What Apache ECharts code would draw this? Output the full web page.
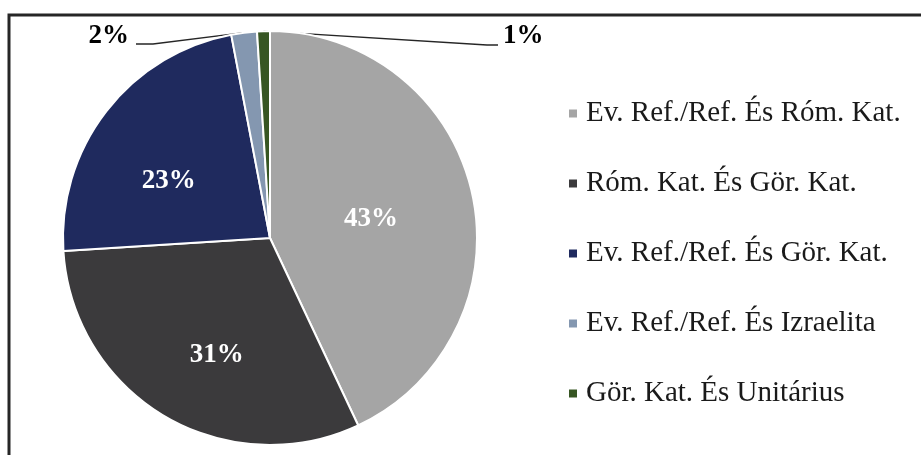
<!DOCTYPE html>
<html lang="hu">
<head>
  <meta charset="utf-8">
  <style>
    html, body { margin: 0; padding: 0; background: #fff; }
    #container { width: 921px; height: 455px; }
  </style>
  <title>Vegyes házasságok felekezeti megoszlása</title>
</head>
<body>
  <div id="container"></div>

  <script type="text/javascript" src="https://fastly.jsdelivr.net/npm/echarts@6/dist/echarts.min.js"></script>
  <script type="text/javascript">
    var categories = [
      'Ev. Ref./Ref. És Róm. Kat.',
      'Róm. Kat. És Gör. Kat.',
      'Ev. Ref./Ref. És Gör. Kat.',
      'Ev. Ref./Ref. És Izraelita',
      'Gör. Kat. És Unitárius'
    ];
    var shares = [43, 31, 23, 2, 1];

    var palette = ['#a5a5a5', '#3b3a3c', '#1f2a5e', '#8497b0', '#375623'];
    var serif = '"Liberation Serif", "Times New Roman", serif';

    // small nudges so the inner labels sit where the original has them
    var insideShift = [[-3, 4], [1, 25], [-17, 8]];

    var myChart = echarts.init(document.getElementById('container'));

    var pieData = categories.map(function (name, i) {
      var item = { name: name, value: shares[i], itemStyle: { color: palette[i] } };
      if (i >= 3) {
        item.label = { position: 'outside', color: '#000' };
        item.labelLine = { show: true };
      }
      return item;
    });

    var option = {
      animation: false,
      graphic: [{
        type: 'polyline',
        shape: { points: [[9, 455], [9, 15], [921, 15]] },
        style: { stroke: '#262626', lineWidth: 3, fill: null }
      }],
      legend: {
        orient: 'vertical',
        left: 562,
        top: 94,
        itemWidth: 10,
        itemHeight: 10,
        itemGap: 41,
        icon: 'rect',
        data: categories,
        textStyle: {
          fontFamily: serif,
          fontSize: 29,
          color: '#1a1a1a',
          padding: [0, 0, 0, 3]
        }
      },
      series: [{
        type: 'pie',
        center: [270, 238],
        radius: 207,
        startAngle: 90,
        clockwise: true,
        avoidLabelOverlap: false,
        itemStyle: { borderColor: '#fff', borderWidth: 2 },
        label: {
          show: true,
          position: 'inside',
          formatter: '{c}%',
          fontFamily: serif,
          fontWeight: 'bold',
          fontSize: 27,
          color: '#fff'
        },
        labelLine: {
          show: false,
          lineStyle: { color: '#262626', width: 1.3 }
        },
        labelLayout: function (p) {
          var i = p.dataIndex;
          if (i < 3) {
            return { dx: insideShift[i][0], dy: insideShift[i][1] };
          }
          var a = p.labelLinePoints ? p.labelLinePoints[0] : null;
          if (i === 3) {
            return {
              x: 129, y: 36, align: 'right', verticalAlign: 'middle',
              labelLinePoints: a ? [a, [153, 44], [136, 44]] : undefined
            };
          }
          return {
            x: 503, y: 36, align: 'left', verticalAlign: 'middle',
            labelLinePoints: a ? [a, [487, 45], [498, 45]] : undefined
          };
        },
        data: pieData
      }]
    };

    myChart.setOption(option);
  </script>
</body>
</html>
